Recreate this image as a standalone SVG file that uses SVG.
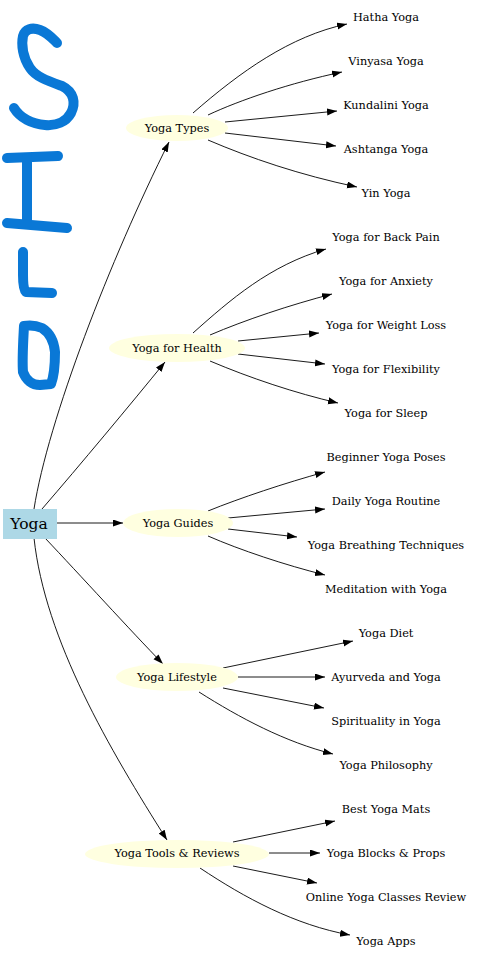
<svg xmlns="http://www.w3.org/2000/svg" width="477" height="960" viewBox="0 0 477 960">
<style>
  text { font-family: "DejaVu Serif", "Liberation Serif", serif; font-size: 11.3px; fill: #000; text-anchor: middle; }
  .root text { font-size: 15.5px; }
  .mid ellipse { fill: #ffffe0; stroke: none; }
  .edges path { fill: none; stroke: #000; stroke-width: 0.9; marker-end: url(#arr); }
  .silo path { fill: none; stroke: #0a78d6; stroke-width: 10; stroke-linecap: round; stroke-linejoin: round; }
</style>
<defs>
  <marker id="arr" markerUnits="userSpaceOnUse" markerWidth="11" markerHeight="8" refX="10" refY="3.5" orient="auto">
    <path d="M0,0 L10,3.5 L0,7 z" fill="#000"/>
  </marker>
</defs>
<rect width="477" height="960" fill="#fff"/>

<g class="silo" id="silo">
  <path d="M57,43 C52,38 48,33 40,30 C32,27 25,29 23,36 C21,45 23,58 30,68 C36,77 48,81 62,86 C74,92 76,103 71,113 C66,122 56,126 45,125 C32,124 20,118 14,108"/>
  <path d="M7,158 L58,156"/>
  <path d="M27,158 L27,222"/>
  <path d="M7,223 L67,228"/>
  <path d="M23,252 L23,275 C23,285 24,290 26,292 L52,293"/>
  <path d="M24,326 C23,345 22,360 23,372 C26,380 32,385 40,385 L51,384 C54,376 55,365 55,352 C54,342 50,333 42,328 C35,325 29,325 24,326 Z"/>
</g>

<g class="edges" id="edges">
  <path d="M34,509 C48,420 110,260 169,142"/>
  <path d="M42,509 C80,465 130,405 165,362"/>
  <path d="M57,523 L123,523"/>
  <path d="M45,538 C80,575 130,630 163,664"/>
  <path d="M34,538 C45,640 110,750 167,840"/>

  <path d="M193,113 C240,72 290,36 347,24"/>
  <path d="M208,115 C240,100 290,83 342,72"/>
  <path d="M225,122 L337,111"/>
  <path d="M225,133 L336,146"/>
  <path d="M208,140 C250,158 300,175 357,187"/>

  <path d="M193,333 C230,300 270,265 326,249"/>
  <path d="M210,335 C245,320 290,305 332,294"/>
  <path d="M238,341 L319,333"/>
  <path d="M238,354 L325,364"/>
  <path d="M210,361 C250,378 295,393 338,403"/>

  <path d="M208,511 C240,498 285,483 325,472"/>
  <path d="M228,518 L325,509"/>
  <path d="M228,529 L297,537"/>
  <path d="M208,536 C240,550 285,565 325,575"/>

  <path d="M223,668 L353,641"/>
  <path d="M238,677 L325,677"/>
  <path d="M223,688 L324,708"/>
  <path d="M199,692 C240,718 285,742 333,754"/>

  <path d="M233,842 L335,821"/>
  <path d="M269,853 L320,853"/>
  <path d="M233,866 L317,883"/>
  <path d="M200,868 C245,898 295,925 350,935"/>
</g>

<g class="root" id="n-yoga"><rect x="3" y="509" width="54" height="30" fill="#add8e6"/><text x="29" y="529">Yoga</text></g>

<g class="mid" id="n-types"><ellipse cx="177" cy="128" rx="51" ry="13"/><text x="177" y="132">Yoga Types</text></g>
<g class="mid" id="n-health"><ellipse cx="177" cy="348" rx="68" ry="14"/><text x="177" y="352">Yoga for Health</text></g>
<g class="mid" id="n-guides"><ellipse cx="178" cy="523" rx="55" ry="14"/><text x="178" y="527">Yoga Guides</text></g>
<g class="mid" id="n-lifestyle"><ellipse cx="177" cy="677" rx="61" ry="14"/><text x="177" y="681">Yoga Lifestyle</text></g>
<g class="mid" id="n-tools"><ellipse cx="177" cy="854" rx="92" ry="14"/><text x="177" y="857">Yoga Tools &amp; Reviews</text></g>

<g id="n-hatha"><text x="386" y="21">Hatha Yoga</text></g>
<g id="n-vinyasa"><text x="386" y="65">Vinyasa Yoga</text></g>
<g id="n-kundalini"><text x="386" y="109">Kundalini Yoga</text></g>
<g id="n-ashtanga"><text x="386" y="153">Ashtanga Yoga</text></g>
<g id="n-yin"><text x="386" y="197">Yin Yoga</text></g>

<g id="n-backpain"><text x="386" y="241">Yoga for Back Pain</text></g>
<g id="n-anxiety"><text x="386" y="285">Yoga for Anxiety</text></g>
<g id="n-weight"><text x="386" y="329">Yoga for Weight Loss</text></g>
<g id="n-flex"><text x="386" y="373">Yoga for Flexibility</text></g>
<g id="n-sleep"><text x="386" y="417">Yoga for Sleep</text></g>

<g id="n-beginner"><text x="386" y="461">Beginner Yoga Poses</text></g>
<g id="n-daily"><text x="386" y="505">Daily Yoga Routine</text></g>
<g id="n-breathing"><text x="386" y="549">Yoga Breathing Techniques</text></g>
<g id="n-meditation"><text x="386" y="593">Meditation with Yoga</text></g>

<g id="n-diet"><text x="386" y="637">Yoga Diet</text></g>
<g id="n-ayurveda"><text x="386" y="681">Ayurveda and Yoga</text></g>
<g id="n-spirit"><text x="386" y="725">Spirituality in Yoga</text></g>
<g id="n-philo"><text x="386" y="769">Yoga Philosophy</text></g>

<g id="n-mats"><text x="386" y="813">Best Yoga Mats</text></g>
<g id="n-blocks"><text x="386" y="857">Yoga Blocks &amp; Props</text></g>
<g id="n-online"><text x="386" y="901">Online Yoga Classes Review</text></g>
<g id="n-apps"><text x="386" y="945">Yoga Apps</text></g>
</svg>
